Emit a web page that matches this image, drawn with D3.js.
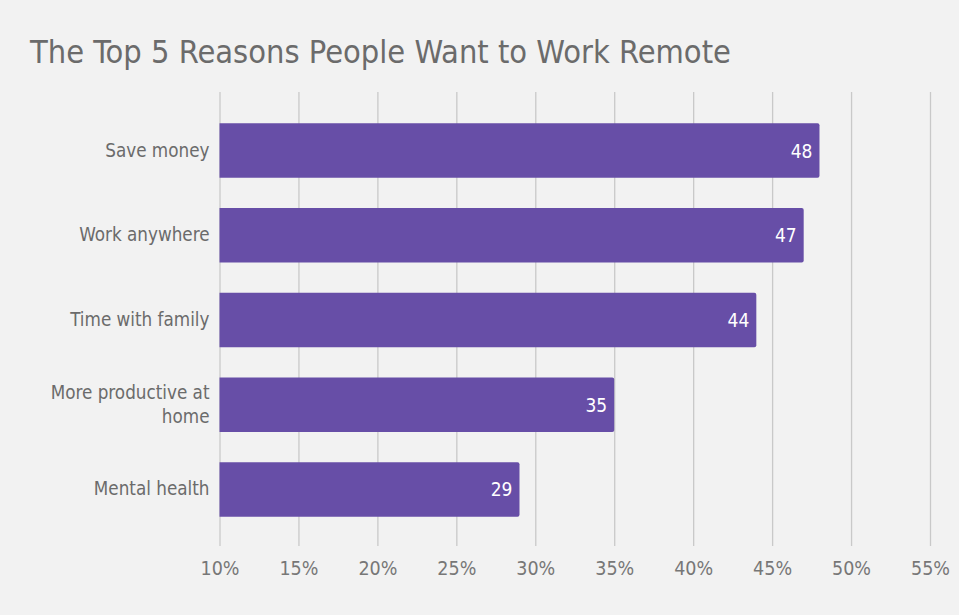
<!DOCTYPE html>
<html>
<head>
<meta charset="utf-8">
<script src="https://cdn.jsdelivr.net/npm/d3@7"></script>
<style>
  html, body { margin: 0; padding: 0; background: #f2f2f2; }
  #canvas { width: 959px; height: 615px; }
  text { font-family: "DejaVu Sans Condensed", "DejaVu Sans", sans-serif; }
  .axis path { display: none; }
  .axis line { stroke: #c9c9c9; stroke-width: 1.3; }
  .axis text { fill: #777777; font-size: 19.5px; }
</style>
</head>
<body>
<div id="canvas" class="canvas"></div>
<script>
var reasons = [['Save money'], ['Work anywhere'], ['Time with family'], ['More productive at', 'home'], ['Mental health']];
var percents = [48, 47, 44, 35, 29];
var xTicks = [10, 15, 20, 25, 30, 35, 40, 45, 50, 55];

var m = {t:92, r:29, b:69, l:219.5};
var outerWidth = 959, outerHeight = 615;
var w = outerWidth - m.l - m.r,
    h = outerHeight - m.t - m.b;

var svg = d3.select('.canvas')
    .append('svg')
    .attr('width', outerWidth)
    .attr('height', outerHeight);

svg.append('rect')
    .attr('width', outerWidth)
    .attr('height', outerHeight)
    .attr('fill', '#f2f2f2');

svg.append('text')
    .attr('x', 30)
    .attr('y', 63)
    .style('font-size', '32.3px')
    .style('fill', '#6b6b6b')
    .text('The Top 5 Reasons People Want to Work Remote');

var plot = svg.append('g')
    .attr('transform', 'translate(' + m.l + ',' + m.t + ')');

var rows = reasons.map(function(d, i) { return { key: d.join(' '), lines: d, value: percents[i] }; });

var scaleX = d3.scaleLinear()
    .domain([xTicks[0], xTicks[xTicks.length - 1]])
    .range([0, w]);

var scaleY = d3.scaleBand()
    .domain(rows.map(function(d) { return d.key; }))
    .range([2, h])
    .paddingInner(0.358)
    .paddingOuter(0.346);

var axisX = d3.axisBottom()
    .scale(scaleX)
    .tickValues(xTicks)
    .tickFormat(function(d) { return d + '%'; })
    .tickSize(h)
    .tickPadding(15);

plot.append('g').attr('class', 'axis axis-x').call(axisX);

plot.selectAll('.bar')
    .data(rows)
    .enter()
    .append('path')
    .attr('class', 'bar')
    .attr('fill', '#674ea7')
    .attr('d', function(d) {
        var x1 = scaleX(d.value), y0 = scaleY(d.key), bh = scaleY.bandwidth(), r = 2;
        return 'M0,' + y0 + 'H' + (x1 - r) + 'Q' + x1 + ',' + y0 + ' ' + x1 + ',' + (y0 + r) +
            'V' + (y0 + bh - r) + 'Q' + x1 + ',' + (y0 + bh) + ' ' + (x1 - r) + ',' + (y0 + bh) +
            'H0Z';
    });

plot.selectAll('.val')
    .data(rows)
    .enter()
    .append('text')
    .attr('class', 'val')
    .attr('x', function(d) { return scaleX(d.value) - 7; })
    .attr('y', function(d) { return scaleY(d.key) + scaleY.bandwidth() / 2 + 7; })
    .attr('text-anchor', 'end')
    .style('font-size', '19px')
    .style('fill', '#ffffff')
    .text(function(d) { return d.value; });

var cat = plot.selectAll('.cat')
    .data(rows)
    .enter()
    .append('text')
    .attr('class', 'cat')
    .attr('text-anchor', 'end')
    .style('font-size', '18.7px')
    .style('fill', '#6b6b6b')
    .attr('transform', function(d) {
        var c = scaleY(d.key) + scaleY.bandwidth() / 2;
        return 'translate(-10,' + (c + 6 - (d.lines.length - 1) * 12) + ')';
    });

cat.selectAll('tspan')
    .data(function(d) { return d.lines; })
    .enter()
    .append('tspan')
    .attr('x', 0)
    .attr('dy', function(d, i) { return i ? 24 : 0; })
    .text(function(d) { return d; });
</script>
</body>
</html>
